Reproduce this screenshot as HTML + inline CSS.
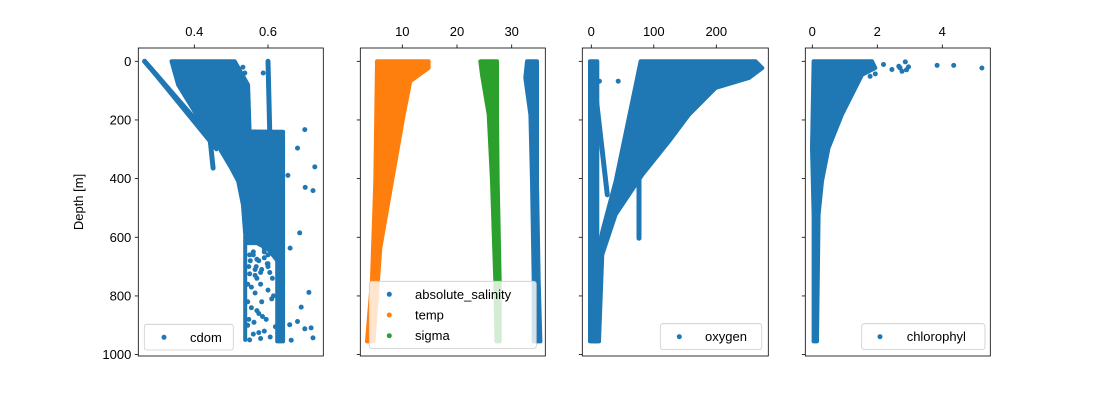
<!DOCTYPE html>
<html><head><meta charset="utf-8"><style>
body{margin:0;background:#fff}
svg text{font-family:"Liberation Sans","DejaVu Sans",sans-serif;font-size:13px;fill:#000}
</style></head><body>
<svg id="fig" width="1100" height="400" viewBox="0 0 1100 400" xmlns="http://www.w3.org/2000/svg">
<rect width="1100" height="400" fill="#fff"/>
</svg>
<script>
// ---- data (value, depth) ----
const yTicks = [0, 200, 400, 600, 800, 1000];
const cdomTicks = [0.4, 0.6];
const ctdTicks = [10, 20, 30];
const oxyTicks = [0, 100, 200];
const chlTicks = [0, 2, 4];

const cdomBody = [[0.338,0],[0.51,0],[0.546,80],[0.55,239],[0.641,240],[0.641,955],[0.625,955],[0.625,680],[0.60,640],[0.57,620],[0.54,620],[0.538,591],[0.532,489],[0.519,409],[0.50,364],[0.47,300],[0.442,256],[0.356,80]];
const cdomDiag = [[0.265,0],[0.442,256],[0.451,364]];
const cdomDiag2 = [[0.27,8],[0.46,300]];
const cdomLine = [[0.600,0],[0.605,250]];
const cdomDeep = [[0.538,600],[0.538,950]];
const cdomOutV = [0.532,0.537,0.587,0.700,0.680,0.727,0.654,0.701,0.722,0.686,0.660,0.711,0.690,0.659,0.680,0.700,0.717,0.722,0.663,
 0.55,0.57,0.59,0.56,0.60,0.58,0.545,0.565,0.61,0.555,0.575,0.595,0.545,0.62,0.56,0.58,0.55,0.6,0.57,0.545,0.59,
 0.552,0.568,0.583,0.598,0.612,0.56,0.575,0.59,0.605,0.548,0.565,0.58,0.6,0.615,0.555,0.57,0.585,0.548,0.562,0.59,0.606,0.575,0.55,0.6,0.565,0.583];
const cdomOutD = [20,40,40,233,296,360,389,430,441,585,637,788,838,898,887,912,909,943,951,
 660,675,640,660,700,720,760,790,810,840,860,880,900,905,930,945,950,690,740,820,650,
 680,700,710,690,740,650,680,670,720,700,730,760,780,800,770,850,870,880,890,920,940,925,725,660,710,820];

const tempPoly = [[5.37,0],[14.81,0],[14.81,23],[11.46,68],[10.25,182],[8.11,409],[5.98,637],[4.76,955],[3.54,955],[4.45,750],[5.06,409]];
const sigmaPoly = [[24.26,0],[27.32,0],[27.32,182],[27.44,409],[27.8,750],[27.8,955],[27.2,955],[27.01,750],[26.40,409],[25.79,182],[24.57,46]];
const salPoly = [[32.8,0],[34.63,0],[34.63,409],[34.94,750],[35.24,955],[34.02,955],[34.02,750],[33.72,409],[33.41,182],[32.49,57]];

const oxyBody = [[78.9,0],[262.9,0],[273.6,23],[252.3,57],[198.9,91],[156.3,182],[124.3,273],[81.6,387],[38.9,523],[17.6,659],[12.3,955],[1.6,955],[7.0,693],[17.6,580],[38.9,409]];
const oxyLeft = [[-2,0],[-2,955],[9.6,955],[9.6,0]];
const oxyDiag = [[1.6,10],[25.6,455]];
const oxyLine = [[76.3,387],[76.3,603]];
const oxyOutV = [13,43];
const oxyOutD = [68,68];

const chlPoly = [[0.041,0],[1.84,0],[1.94,23],[1.53,46],[0.91,182],[0.50,296],[0.30,409],[0.195,523],[0.144,955],[0.041,955],[0.041,523],[-0.01,296]];
const chlOutV = [2.19,2.45,2.66,2.76,2.86,2.96,3.84,4.35,5.22,1.78,1.94,2.7,2.9];
const chlOutD = [11,28,17,34,2,19,14,14,23,51,43,22,29];

// ---- layout ----
const TOP = 48, BOT = 356;
const yScale = d => 61.3 + d * 0.2933;
const panels = [
 {name:'cdom', left:138.3, right:323.3, x:v=>194.3+(v-0.4)*368.5, ticks:cdomTicks, fmt:v=>v.toFixed(1)},
 {name:'ctd', left:360.3, right:545.3, x:v=>402.3+(v-10)*5.47, ticks:ctdTicks, fmt:v=>String(v)},
 {name:'oxygen', left:582.3, right:768.3, x:v=>591.3+v*0.625, ticks:oxyTicks, fmt:v=>String(v)},
 {name:'chlorophyl', left:805.3, right:990.3, x:v=>812.3+v*32.5, ticks:chlTicks, fmt:v=>String(v)}
];
const NS = 'http://www.w3.org/2000/svg';
const svg = document.getElementById('fig');
function mk(tag, attrs, parent){const e=document.createElementNS(NS,tag);for(const k in attrs)e.setAttribute(k,attrs[k]);(parent||svg).appendChild(e);return e;}
const BLUE='#1f77b4', ORANGE='#ff7f0e', GREEN='#2ca02c';

function poly(p, pts, color, name){
  const g = mk('polygon',{points:pts.map(q=>p.x(q[0]).toFixed(1)+','+yScale(q[1]).toFixed(1)).join(' '),fill:color,stroke:color,'stroke-width':4,'stroke-linejoin':'round'},p.g);
  
  
}
function line(p, pts, color, name, w){
  const g = mk('polyline',{points:pts.map(q=>p.x(q[0]).toFixed(1)+','+yScale(q[1]).toFixed(1)).join(' '),fill:'none',stroke:color,'stroke-width':w||5,'stroke-linecap':'round','stroke-linejoin':'round'},p.g);
  
  
}
function dots(p, vs, ds, color, name){
  for(let i=0;i<vs.length;i++){
    const c = mk('circle',{cx:p.x(vs[i]).toFixed(1),cy:yScale(ds[i]).toFixed(1),r:2.5,fill:color},p.g);
    
    
  }
}

panels.forEach((p,i)=>{
  const cp = mk('clipPath',{id:'clip'+i});
  mk('rect',{x:p.left,y:TOP,width:p.right-p.left,height:BOT-TOP},cp);
  p.g = mk('g',{'clip-path':'url(#clip'+i+')'});
  
  
});
const [P1,P2,P3,P4] = panels;
poly(P1, cdomBody, BLUE, 'cdom-points');
line(P1, cdomDiag, BLUE, 'cdom-points');
line(P1, cdomDiag2, BLUE, 'cdom-points',4);
line(P1, cdomLine, BLUE, 'cdom-points');
line(P1, cdomDeep, BLUE, 'cdom-points',4);
dots(P1, cdomOutV, cdomOutD, BLUE, 'cdom-point');
poly(P2, salPoly, BLUE, 'salinity-points');
poly(P2, tempPoly, ORANGE, 'temp-points');
poly(P2, sigmaPoly, GREEN, 'sigma-points');
poly(P3, oxyLeft, BLUE, 'oxygen-points');
poly(P3, oxyBody, BLUE, 'oxygen-points');
line(P3, oxyDiag, BLUE, 'oxygen-points');
line(P3, oxyLine, BLUE, 'oxygen-points');
dots(P3, oxyOutV, oxyOutD, BLUE, 'oxygen-point');
poly(P4, chlPoly, BLUE, 'chlorophyl-points');
dots(P4, chlOutV, chlOutD, BLUE, 'chlorophyl-point');

// axes
panels.forEach((p,i)=>{
  const f = mk('rect',{x:p.left,y:TOP,width:p.right-p.left,height:BOT-TOP,fill:'none',stroke:'#000','stroke-width':0.8});
  
  
  p.ticks.forEach(t=>{
    const x = p.x(t);
    const tk = mk('line',{x1:x,x2:x,y1:TOP,y2:TOP-3.5,stroke:'#000','stroke-width':0.8});
    
    
    const tl = mk('text',{x:x,y:TOP-12,'text-anchor':'middle'});
    tl.textContent = p.fmt(t);
    
    
  });
  yTicks.forEach(t=>{
    const y = yScale(t);
    const tk = mk('line',{x1:p.left,x2:p.left-3.5,y1:y,y2:y,stroke:'#000','stroke-width':0.8});
    
    
    if(i===0){
      const tl = mk('text',{x:p.left-7,y:y+4.5,'text-anchor':'end'});
      tl.textContent = String(t);
      
      
    }
  });
});
const yl = mk('text',{x:0,y:0,'text-anchor':'middle',transform:'translate(83,202) rotate(-90)'});
yl.textContent = 'Depth [m]';



// legends
function legend(name, x, y, w, entries, dotX, textX){
  const g = mk('g',{});
  
  
  mk('rect',{x:x,y:y,width:w,height:entries.length*20.7+5,rx:2.5,fill:'#fff','fill-opacity':0.8,stroke:'#ccc','stroke-width':0.8},g);
  entries.forEach((e,k)=>{
    const cy = y+13+k*20.7;
    const c = mk('circle',{cx:dotX,cy:cy,r:2.5,fill:e[1]},g);
    
    
    const t = mk('text',{x:textX,y:cy+4.5},g);
    t.textContent = e[0];
    
    
  });
}
legend('cdom-legend',144.3,324.3,89,[['cdom',BLUE]],164,190);
legend('ctd-legend',369.3,281.3,167,[['absolute_salinity',BLUE],['temp',ORANGE],['sigma',GREEN]],389.3,415);
legend('oxygen-legend',660.3,323.7,101.5,[['oxygen',BLUE]],679.3,705);
legend('chlorophyl-legend',861.7,323.7,123.3,[['chlorophyl',BLUE]],880,906.7);
</script>
</body></html>
